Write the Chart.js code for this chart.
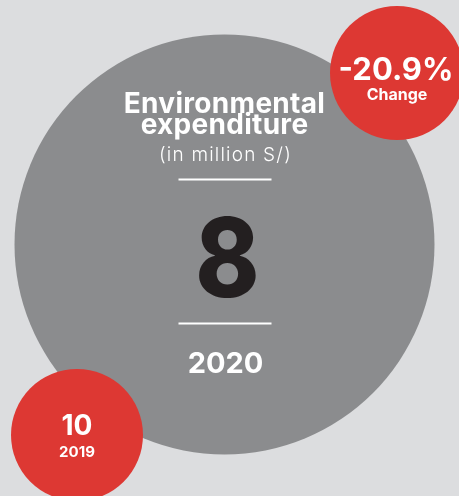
<!DOCTYPE html>
<html>
<head>
<meta charset="utf-8">
<title>Environmental expenditure</title>
<script src="https://cdn.jsdelivr.net/npm/chart.js@4"></script>
<style>
  html, body { margin: 0; padding: 0; background: #dcdddf; }
  #chart { display: block; }
</style>
</head>
<body>
<canvas id="chart" width="459" height="496"></canvas>
<script>
// expenditure in million S/
const years = ["2019", "2020"];
const values = [10, 8];
const changePct = -20.9;
const title = ["Environmental", "expenditure"];
const unitLabel = "(in million S/)";
const changeLabel = "Change";

const GREY = "#8b8c8e";
const RED = "#dd3833";
const WHITE = "#ffffff";
const INK = "#231f20";
const FONT = "Inter, 'Open Sans', sans-serif";

// bubble placement on a 459 x 496 grid (current year big, previous year and change small)
const current = {x: 224.5, y: 244.5, r: 210};
const previous = {x: 77, y: 435, r: 66};
const change = {x: 397, y: 73, r: 67};

function text(ctx, str, x, y, font, color, spacing) {
    ctx.font = font;
    ctx.fillStyle = color;
    ctx.textAlign = "center";
    ctx.textBaseline = "alphabetic";
    ctx.letterSpacing = (spacing || 0) + "px";
    ctx.fillText(str, x, y);
    ctx.letterSpacing = "0px";
}

function rule(ctx, x1, x2, y) {
    ctx.strokeStyle = WHITE;
    ctx.lineWidth = 2;
    ctx.beginPath();
    ctx.moveTo(x1, y);
    ctx.lineTo(x2, y);
    ctx.stroke();
}

// writes the figures inside each bubble
const bubbleText = {
    id: "bubbleText",
    afterDatasetsDraw(chart) {
        const ctx = chart.ctx;
        const xs = chart.scales.x;
        const ys = chart.scales.y;

        const cx = xs.getPixelForValue(current.x);
        const cy = ys.getPixelForValue(current.y);
        ctx.save();
        text(ctx, title[0], cx, cy - 132, "bold 28px " + FONT, WHITE, 0.3);
        text(ctx, title[1], cx, cy - 111, "bold 28px " + FONT, WHITE, 0.3);
        text(ctx, unitLabel, cx + 1, cy - 84, "300 19px " + FONT, WHITE, 1.2);
        rule(ctx, cx - 46, cx + 47, cy - 65);

        // big figure, slightly condensed
        ctx.save();
        ctx.translate(cx + 3, cy + 52);
        ctx.scale(0.88, 1);
        text(ctx, String(values[1]), 0, 0, "800 110px " + FONT, INK);
        ctx.restore();

        rule(ctx, cx - 46, cx + 47, cy + 79);
        text(ctx, years[1], cx + 1, cy + 128, "bold 29px " + FONT, WHITE);

        const px = xs.getPixelForValue(previous.x);
        const py = ys.getPixelForValue(previous.y);
        text(ctx, String(values[0]), px, py, "bold 28px " + FONT, WHITE);
        text(ctx, years[0], px, py + 22, "bold 15px " + FONT, WHITE);

        const gx = xs.getPixelForValue(change.x);
        const gy = ys.getPixelForValue(change.y);
        text(ctx, changePct.toFixed(1) + "%", gx - 1, gy + 7, "bold 31px " + FONT, WHITE);
        text(ctx, changeLabel, gx, gy + 27, "bold 16px " + FONT, WHITE);
        ctx.restore();
    }
};

new Chart(document.getElementById("chart"), {
    type: "bubble",
    data: {
        datasets: [
            {label: years[1], data: [current], backgroundColor: GREY, borderWidth: 0, clip: false, order: 2},
            {label: years[0], data: [previous], backgroundColor: RED, borderWidth: 0, clip: false, order: 1},
            {label: changeLabel, data: [change], backgroundColor: RED, borderWidth: 0, clip: false, order: 1},
        ],
    },
    options: {
        responsive: false,
        animation: false,
        events: [],
        layout: {padding: 0, autoPadding: false},
        plugins: {
            legend: {display: false},
            tooltip: {enabled: false},
        },
        scales: {
            x: {type: "linear", display: false, min: 0, max: 459},
            y: {type: "linear", display: false, min: 0, max: 496, reverse: true},
        },
    },
    plugins: [bubbleText],
});
</script>
</body>
</html>
